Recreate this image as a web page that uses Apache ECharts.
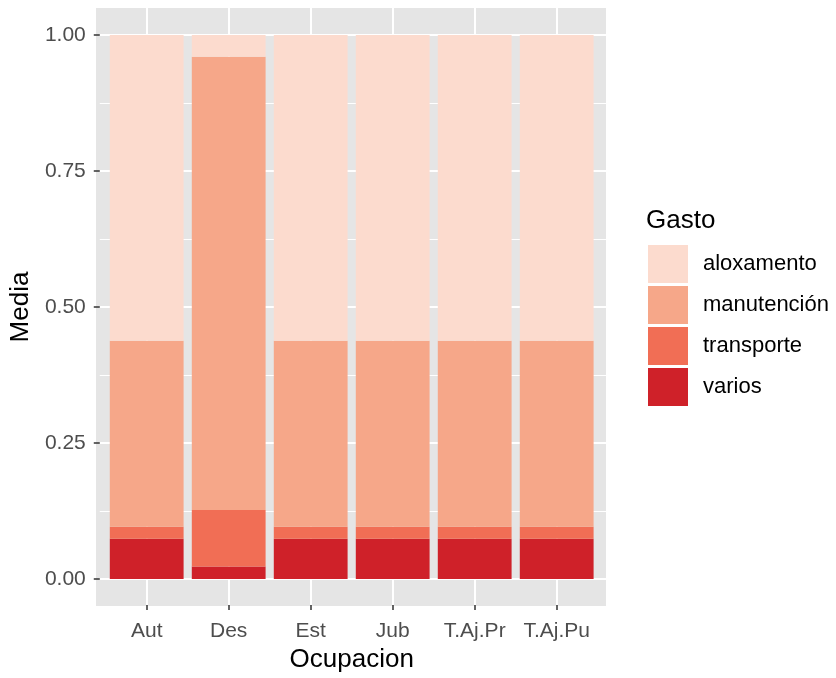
<!DOCTYPE html>
<html>
<head>
<meta charset="utf-8">
<script src="https://cdn.jsdelivr.net/npm/echarts@6/dist/echarts.min.js"></script>
<style>
html, body { margin: 0; padding: 0; background: #fff; }
#main { width: 836px; height: 678px; }
</style>
</head>
<body>
<div id="main"></div>
<script>
var ocupaciones = ['Aut', 'Des', 'Est', 'Jub', 'T.Aj.Pr', 'T.Aj.Pu'];
var yTicks = [0, 0.25, 0.5, 0.75, 1];

// media de cada gasto (proporcion) por ocupacion
var varios = [0.074, 0.023, 0.074, 0.074, 0.074, 0.074];
var transporte = [0.022, 0.104, 0.022, 0.022, 0.022, 0.022];
var manutencion = [0.342, 0.833, 0.342, 0.342, 0.342, 0.342];
var aloxamento = [0.562, 0.040, 0.562, 0.562, 0.562, 0.562];

var gastos = ['aloxamento', 'manutención', 'transporte', 'varios'];
var colores = {
	'aloxamento': '#FCDBCE',
	'manutención': '#F6A789',
	'transporte': '#F16E55',
	'varios': '#CF2129'
};

var fuente = 'Liberation Sans, Arial, sans-serif';

function barra(nombre, datos) {
	return {
		name: nombre,
		type: 'bar',
		stack: 'gasto',
		xAxisIndex: 3,
		yAxisIndex: 3,
		barWidth: '90%',
		data: datos,
		itemStyle: { color: colores[nombre] },
		emphasis: { disabled: true }
	};
}

var opt = {
	backgroundColor: '#ffffff',
	animation: false,
	textStyle: { fontFamily: fuente },
	title: {
		text: 'Gasto',
		left: 646,
		top: 208,
		padding: 0,
		textStyle: { fontSize: 26, fontWeight: 'normal', color: '#000', fontFamily: fuente }
	},
	legend: {
		orient: 'vertical',
		left: 648,
		top: 245,
		padding: 0,
		itemWidth: 40,
		itemHeight: 38,
		itemGap: 3,
		icon: 'rect',
		data: gastos,
		selectedMode: false,
		textStyle: { fontSize: 22, color: '#000', padding: [0, 0, 0, 10], fontFamily: fuente }
	},
	grid: [
		// panel de fondo
		{ left: 96, right: 230, top: 8, bottom: 72, show: true, backgroundColor: '#E5E5E5', borderWidth: 0, z: -1 },
		// lineas horizontales + eje y
		{ left: 96, right: 230, top: 35, bottom: 99 },
		// lineas verticales + eje x
		{ left: 146.7, right: 279.3, top: 8, bottom: 72 },
		// barras
		{ left: 105.7, right: 238.3, top: 35, bottom: 99 }
	],
	xAxis: [
		{ gridIndex: 0, type: 'category', data: ocupaciones, show: false },
		{ gridIndex: 1, type: 'category', data: ocupaciones, show: false },
		{
			gridIndex: 2, type: 'category', data: ocupaciones, boundaryGap: false,
			name: 'Ocupacion', nameLocation: 'middle', nameGap: 41,
			nameTextStyle: { fontSize: 26, color: '#000', fontFamily: fuente },
			axisLine: { show: false },
			axisTick: { show: true, length: 5, lineStyle: { color: '#333', width: 1.5 } },
			axisLabel: { fontSize: 21, color: '#4D4D4D', margin: 16, interval: 0 },
			splitLine: { show: true, interval: 0, lineStyle: { color: '#fff', width: 2 } }
		},
		{ gridIndex: 3, type: 'category', data: ocupaciones, show: false, boundaryGap: true }
	],
	yAxis: [
		{ gridIndex: 0, type: 'value', show: false },
		{
			gridIndex: 1, type: 'value', min: 0, max: 1, interval: 0.25,
			name: 'Media', nameLocation: 'middle', nameGap: 61, nameRotate: 90,
			nameTextStyle: { fontSize: 26, color: '#000', fontFamily: fuente },
			axisLine: { show: false },
			axisTick: { show: true, length: 6, lineStyle: { color: '#333', width: 1.5 } },
			axisLabel: {
				fontSize: 21, color: '#4D4D4D', margin: 14,
				formatter: function (v) { return v.toFixed(2); }
			},
			splitLine: { show: true, lineStyle: { color: '#fff', width: 2 } },
			minorTick: { show: false, splitNumber: 2 },
			minorSplitLine: { show: true, lineStyle: { color: '#fff', width: 1 } }
		},
		{ gridIndex: 2, type: 'value', show: false },
		{ gridIndex: 3, type: 'value', min: 0, max: 1, show: false }
	],
	series: [
		barra('varios', varios),
		barra('transporte', transporte),
		barra('manutención', manutencion),
		barra('aloxamento', aloxamento)
	]
};

var chart = echarts.init(document.getElementById('main'), null, { renderer: 'canvas' });
chart.setOption(opt);
</script>
</body>
</html>
